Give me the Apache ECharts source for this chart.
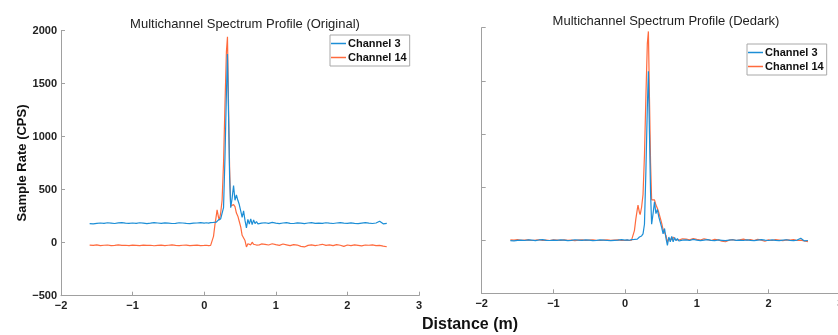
<!DOCTYPE html>
<html>
<head>
<meta charset="utf-8">
<script src="https://cdn.jsdelivr.net/npm/echarts@6/dist/echarts.min.js"></script>
<style>html,body{margin:0;padding:0;background:#fff}#c{width:838px;height:335px}</style>
</head>
<body>
<div id="c"></div>
<script>
const titles = ['Multichannel Spectrum Profile (Original)', 'Multichannel Spectrum Profile (Dedark)'];
const seriesNames = ['Channel 3', 'Channel 14'];
const xLabel = 'Distance (m)';
const yLabel = 'Sample Rate (CPS)';

const distance = [
 -1.60,-1.55,-1.50,-1.45,-1.40,-1.35,-1.30,-1.25,-1.20,-1.15,-1.10,-1.05,-1.00,-0.95,-0.90,-0.85,-0.80,-0.75,-0.70,-0.65,-0.60,-0.55,-0.50,-0.45,-0.40,-0.35,-0.30,-0.25,-0.20,-0.15,-0.10,-0.05,0.00,
 0.03,0.06,0.09,0.11,0.13,0.15,0.17,0.18,0.20,0.21,0.23,0.25,0.27,0.29,0.31,0.325,0.34,0.355,0.37,0.39,0.41,0.43,0.45,0.47,0.49,0.51,0.53,0.55,0.57,0.59,0.61,0.63,0.65,0.67,0.69,0.71,0.73,0.75,0.77,0.80,
 0.85,0.90,0.95,1.00,1.05,1.10,1.15,1.20,1.25,1.30,1.35,1.40,1.45,1.50,1.55,1.60,1.65,1.70,1.75,1.80,1.85,1.90,1.95,2.00,2.05,2.10,2.15,2.20,2.25,2.30,2.35,2.40,2.45,2.50,2.55
];

const origCh3 = [
 180,178,183,186,182,188,185,181,187,190,184,182,186,183,188,185,180,184,189,186,183,187,185,181,183,188,186,182,180,184,186,190,185,
 188,184,190,186,192,185,195,205,215,208,225,240,330,800,1400,1780,1200,620,330,420,540,400,450,400,360,300,240,300,210,140,220,175,225,170,215,180,200,178,195,185,
 188,182,192,185,180,186,190,183,181,187,184,180,186,189,183,185,182,188,184,181,186,190,185,182,187,183,180,185,189,184,181,186,203,178,182
];
const origCh14 = [
 -22,-25,-20,-27,-24,-22,-28,-25,-21,-26,-24,-28,-23,-25,-27,-22,-26,-24,-29,-25,-23,-27,-24,-21,-26,-28,-24,-22,-27,-25,-23,-28,-26,
 -24,-28,-25,-10,60,170,260,309,240,214,280,400,750,1300,1800,1943,1300,700,345,330,360,340,280,250,200,150,70,75,20,-40,-10,0,-20,5,-15,0,-22,-8,-20,-12,
 -15,-22,-10,-18,-25,-12,-20,-28,-18,-22,-35,-40,-25,-20,-28,-22,-15,-25,-20,-28,-18,-24,-35,-22,-28,-20,-25,-30,-22,-24,-20,-28,-25,-32,-38
];
const dedarkCh3 = [
 -5,-7,-2,1,-3,3,0,-4,2,5,-1,-3,1,-2,3,0,-5,-1,4,1,-2,2,0,-4,-2,3,1,-3,-5,-1,1,5,0,
 3,-1,5,1,7,0,10,15,30,20,40,60,150,650,1250,1590,1000,450,150,250,360,250,290,220,170,120,60,110,20,-50,30,-15,35,-15,25,-5,15,-8,10,0,
 3,-3,7,0,-5,1,5,-2,-4,2,-1,-5,1,4,-2,0,-3,3,-1,-4,1,5,0,-3,2,-2,-5,0,4,-1,-4,1,18,-7,-3
];
const dedarkCh14 = [
 3,0,5,-2,1,3,-3,0,4,-1,1,-3,2,0,-2,3,-1,1,-4,0,2,-2,1,4,-1,-3,1,3,-2,0,2,-3,-1,
 1,-3,0,15,90,200,290,330,260,240,310,430,800,1350,1850,1965,1330,730,380,370,380,330,300,260,210,160,100,90,45,-15,15,25,5,30,10,25,3,17,5,13,
 10,3,15,7,0,13,5,-3,7,3,-10,-15,0,5,-3,3,10,0,5,-3,7,1,-10,3,-3,5,0,-5,3,1,5,-3,0,-7,-13
];
const xTicks = [-2, -1, 0, 1, 2, 3];
const yTicks = [-500, 0, 500, 1000, 1500, 2000];

const BLUE = '#1c8ed6';
const ORANGE = '#ff6a3d';
const FONT = 'Liberation Sans, Arial';
const pair = ys => distance.map((x, i) => [x, ys[i]]);
const minus = v => String(v).replace('-', '\u2212');

function xAxis(idx) {
  return {
    type: 'value', gridIndex: idx, min: xTicks[0], max: xTicks[xTicks.length - 1], interval: 1,
    axisLine: { onZero: false, lineStyle: { color: '#a0a0a0', width: 1 } },
    axisTick: { inside: true, length: 4, lineStyle: { color: '#a0a0a0' } },
    splitLine: { show: false },
    axisLabel: { color: '#222', fontWeight: 'bold', fontSize: 11, fontFamily: FONT, margin: 5, formatter: minus, hideOverlap: false }
  };
}
function yAxis(idx, showLabels) {
  return {
    type: 'value', gridIndex: idx, min: yTicks[0], max: yTicks[yTicks.length - 1], interval: 500,
    axisLine: { show: true, onZero: false, lineStyle: { color: '#a0a0a0', width: 1 } },
    axisTick: { show: true, inside: true, length: 4, lineStyle: { color: '#a0a0a0' } },
    splitLine: { show: false },
    axisLabel: { show: showLabels, color: '#222', fontWeight: 'bold', fontSize: 11, fontFamily: FONT, margin: 4, formatter: minus }
  };
}
function line(name, data, color, idx) {
  return { type: 'line', name, data, xAxisIndex: idx, yAxisIndex: idx, showSymbol: false, symbol: 'none',
    lineStyle: { color, width: 1.2 }, itemStyle: { color }, animation: false, z: name === 'Channel 3' ? 3 : 2 };
}
function legend(left, top) {
  return {
    orient: 'vertical', left, top, data: seriesNames, icon: 'rect', itemWidth: 15, itemHeight: 1.5, itemGap: 3,
    padding: [3, 3, 3, 1], borderColor: '#a8a8a8', borderWidth: 1, backgroundColor: '#fff',
    textStyle: { color: '#111', fontWeight: 'bold', fontSize: 11, fontFamily: FONT, padding: [0, 0, 0, -3] },
    selectedMode: false
  };
}

const chart = echarts.init(document.getElementById('c'), null, { renderer: 'canvas' });
chart.setOption({
  backgroundColor: '#fff',
  animation: false,
  title: [
    { text: titles[0], left: 240, top: 13, textAlign: 'center', textStyle: { fontSize: 13, fontWeight: 'normal', color: '#222', fontFamily: FONT } },
    { text: titles[1], left: 661, top: 10, textAlign: 'center', textStyle: { fontSize: 13, fontWeight: 'normal', color: '#222', fontFamily: FONT } }
  ],
  grid: [
    { left: 61, top: 30.7, width: 358, height: 265, outerBoundsMode: 'none', containLabel: false },
    { left: 481.7, top: 27.7, width: 358.5, height: 265.6, outerBoundsMode: 'none', containLabel: false }
  ],
  xAxis: [xAxis(0), xAxis(1)],
  yAxis: [yAxis(0, true), yAxis(1, false)],
  legend: [legend(330, 35), legend(747, 44)],
  series: [
    line(seriesNames[1], pair(origCh14), ORANGE, 0),
    line(seriesNames[0], pair(origCh3), BLUE, 0),
    line(seriesNames[1], pair(dedarkCh14), ORANGE, 1),
    line(seriesNames[0], pair(dedarkCh3), BLUE, 1)
  ],
  graphic: [
    { type: 'text', x: 22.5, y: 163, rotation: Math.PI / 2, style: { text: yLabel, fontSize: 13, fontWeight: 'bold', fill: '#111', fontFamily: FONT, align: 'center', verticalAlign: 'middle' } },
    { type: 'text', x: 470, y: 325, style: { text: xLabel, fontSize: 16, fontWeight: 'bold', fill: '#111', fontFamily: FONT, align: 'center', verticalAlign: 'middle' } }
  ]
});
</script>
</body>
</html>
